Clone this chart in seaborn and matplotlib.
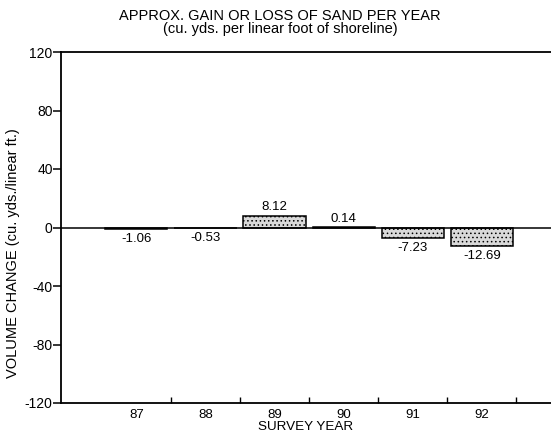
import numpy as np
import pandas as pd
import matplotlib
matplotlib.use("Agg")
import matplotlib.pyplot as plt
import seaborn as sns

# survey data
years = ["87", "88", "89", "90", "91", "92"]
change = [-1.06, -0.53, 8.12, 0.14, -7.23, -12.69]
yticks = [120, 80, 40, 0, -40, -80, -120]

sns.set_theme(style="white")
plt.rcParams["font.family"] = ["Liberation Sans", "DejaVu Sans"]
plt.rcParams["hatch.linewidth"] = 0.6
plt.rcParams["hatch.color"] = "#444444"
for k in ["text.color", "axes.labelcolor", "xtick.color", "ytick.color"]:
    plt.rcParams[k] = "black"

df = pd.DataFrame({"year": years, "change": change})

fig = plt.figure(figsize=(5.51, 4.38), dpi=100)
ax = fig.add_axes([61 / 551, 1 - 403 / 438, 1 - 61 / 551, 351 / 438])

sns.barplot(data=df, x="year", y="change", order=years, ax=ax,
            color="#d9d9d9", edgecolor="black", linewidth=1.1, width=0.9)
for p in ax.patches:
    p.set_hatch("....")

ax.axhline(0, color="black", lw=1.1, zorder=3)

for i, v in enumerate(change):
    if v >= 0:
        ax.text(i, v + 1.5, f"{v:.2f}", ha="center", va="bottom", fontsize=9.5)
    else:
        ax.text(i, v - 2.5, f"{v:.2f}", ha="center", va="top", fontsize=9.5)

ax.set_xlim(-1.09, 6.0)
ax.set_ylim(-120, 120)
ax.set_yticks(yticks)
ax.set_yticklabels([str(t) for t in yticks], fontsize=10)
ax.set_xticks(range(len(years)))
ax.set_xticklabels(years, fontsize=9.5)
ax.set_xticks(np.arange(0.5, 5.6, 1.0), minor=True)
ax.tick_params(axis="x", which="major", length=0, pad=4)
ax.tick_params(axis="x", which="minor", direction="in", length=4, color="black", bottom=True)
ax.tick_params(axis="y", direction="out", length=6, width=1.1, color="black", left=True, pad=0)

ax.set_xlabel("SURVEY YEAR", fontsize=9.7, labelpad=0)
ax.set_ylabel("")
fig.text(13 / 551, 1 - 253 / 438, "VOLUME CHANGE (cu. yds./linear ft.)",
         rotation=90, ha="center", va="center", fontsize=10.5)

for s in ["left", "top", "bottom"]:
    ax.spines[s].set_visible(True)
    ax.spines[s].set_color("black")
    ax.spines[s].set_linewidth(1.3)
ax.spines["right"].set_visible(False)

fig.text(280 / 551, 1 - 16 / 438, "APPROX. GAIN OR LOSS OF SAND PER YEAR",
         ha="center", va="center", fontsize=10.5)
fig.text(280 / 551, 1 - 29 / 438, "(cu. yds. per linear foot of shoreline)",
         ha="center", va="center", fontsize=10.5)

fig.savefig("out.png", dpi=100)
